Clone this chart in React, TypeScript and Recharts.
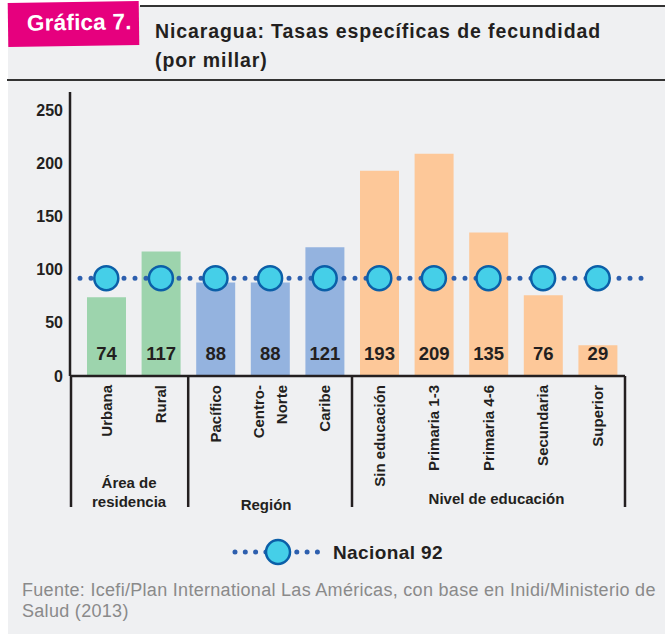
import React from 'react';
import { BarChart, Bar, Line, XAxis, YAxis, Cell, LabelList, ReferenceLine } from 'recharts';

const categorias = ['Urbana', 'Rural', 'Pacífico', 'Centro-\nNorte', 'Caribe', 'Sin educación', 'Primaria 1-3', 'Primaria 4-6', 'Secundaria', 'Superior'];
const tasas = [74, 117, 88, 88, 121, 193, 209, 135, 76, 29];
const grupoDe = [0, 0, 1, 1, 1, 2, 2, 2, 2, 2];
const grupos = [
  { nombre: ['Área de', 'residencia'], desde: 0, hasta: 1, color: '#9dd4ad' },
  { nombre: ['Región'], desde: 2, hasta: 4, color: '#94b3df' },
  { nombre: ['Nivel de educación'], desde: 5, hasta: 9, color: '#fdc899' },
];
const nacional = 92;
const yTicks = [0, 50, 100, 150, 200, 250];

const data = categorias.map((name, i) => ({ name, tasa: tasas[i], nacional, grupo: grupoDe[i] }));

const INK = '#231f20';
const FONT = '"Liberation Sans", Arial, sans-serif';
const PAD_LEFT = 9;

const CategoryTick = (props: any) => {
  const { x, y, payload, index } = props;
  const half = payload.offset || 27.3;
  const lines = String(payload.value).split('\n');
  const g = grupos.find((gr) => gr.hasta === index);
  let groupNode = null;
  if (g) {
    const right = x + half;
    let left = x - (g.hasta - g.desde) * 2 * half - half;
    if (g.desde === 0) left -= PAD_LEFT;
    // small nudges so the group titles sit where the original has them
    const nudge = g.desde === 2 ? -4 : g.desde === 5 ? 8 : 0;
    const cx = (left + right) / 2 + nudge;
    const baseY = g.nombre.length > 1 ? y + 112 : g.desde === 2 ? y + 134 : y + 128;
    groupNode = (
      <g>
        <line x1={right} x2={right} y1={y} y2={y + 131} stroke={INK} strokeWidth={2.5} />
        {g.desde === 0 && (
          <line x1={left + 1} x2={left + 1} y1={y} y2={y + 131} stroke={INK} strokeWidth={2.5} />
        )}
        <text x={cx} y={baseY} textAnchor="middle" fontSize={15} fontWeight="bold" fill={INK} fontFamily={FONT}>
          {g.nombre.map((l, i) => (
            <tspan key={i} x={cx} dy={i === 0 ? 0 : 19}>{l}</tspan>
          ))}
        </text>
      </g>
    );
  }
  return (
    <g>
      <text
        transform={`translate(${x},${y + 9}) rotate(-90)`}
        textAnchor="end"
        fontSize={15}
        fontWeight="bold"
        fill={INK}
        fontFamily={FONT}
      >
        {lines.map((l, i) => (
          <tspan key={i} x={0} y={(i - (lines.length - 1) / 2) * 23} dy="0.35em">{l}</tspan>
        ))}
      </text>
      {groupNode}
    </g>
  );
};

const ValueLabel = (props: any) => {
  const { x, y, width, height, value } = props;
  return (
    <text x={x + width / 2} y={y + height - 16} textAnchor="middle" fontSize={18.5} fontWeight="bold" fill={INK} fontFamily={FONT}>
      {value}
    </text>
  );
};

const DottedLine = (props: any) => {
  const { x1, x2, y1, y2 } = props;
  return (
    <line
      x1={x1 + 10}
      x2={x2 + 20}
      y1={y1}
      y2={y2}
      stroke="#2d5fae"
      strokeWidth={5}
      strokeDasharray="0 11"
      strokeLinecap="round"
    />
  );
};

export default function App() {
  return (
    <div style={{ position: 'absolute', left: 0, top: 0, width: 665, height: 634, background: '#fff', fontFamily: FONT, overflow: 'hidden' }}>
      <div style={{ position: 'absolute', left: 8, top: 6, right: 0, bottom: 0, background: '#eff0f2' }} />
      <div style={{ position: 'absolute', left: 140, top: 5, right: 0, height: 2, background: '#333' }} />
      <div style={{ position: 'absolute', left: 7, top: 79, right: 0, height: 2, background: '#333' }} />
      <div
        style={{
          position: 'absolute', left: 8, top: 2, width: 131, height: 44, background: '#e6007e',
          transform: 'rotate(-0.8deg)', color: '#fff', fontWeight: 'bold', fontSize: 22.5,
          lineHeight: '41px', paddingLeft: 19, boxSizing: 'border-box', letterSpacing: 0.2,
        }}
      >
        Gráfica 7.
      </div>
      <div style={{ position: 'absolute', left: 155, top: 17, fontWeight: 'bold', fontSize: 19.5, lineHeight: '29px', color: INK, letterSpacing: 0.9 }}>
        Nicaragua: Tasas específicas de fecundidad<br />(por millar)
      </div>

      <div style={{ position: 'absolute', left: 0, top: 0 }}>
        <BarChart width={665} height={634} data={data} margin={{ top: 92, right: 40, bottom: 127, left: 0 }}>
          <XAxis
            dataKey="name"
            interval={0}
            height={131}
            padding={{ left: PAD_LEFT, right: 0 }}
            axisLine={{ stroke: INK, strokeWidth: 2.5 }}
            tickLine={false}
            tickSize={0}
            tickMargin={0}
            tick={<CategoryTick />}
          />
          <YAxis
            width={70}
            domain={[0, 267]}
            ticks={yTicks}
            axisLine={{ stroke: INK, strokeWidth: 2.5 }}
            tickLine={false}
            tickSize={0}
            tickMargin={7}
            tick={{ fill: INK, fontSize: 16, fontWeight: 'bold', fontFamily: FONT }}
          />
          <Bar dataKey="tasa" barSize={39} isAnimationActive={false}>
            {data.map((d, i) => (
              <Cell key={i} fill={grupos[d.grupo].color} />
            ))}
            <LabelList dataKey="tasa" content={<ValueLabel />} />
          </Bar>
          <ReferenceLine y={nacional} ifOverflow="visible" shape={<DottedLine />} />
          <Line
            dataKey="nacional"
            stroke="none"
            isAnimationActive={false}
            activeDot={false}
            dot={{ r: 12, fill: '#45cfe8', stroke: '#0b5fa8', strokeWidth: 2.5 }}
          />
        </BarChart>
      </div>

      <svg style={{ position: 'absolute', left: 0, top: 530 }} width={665} height={45}>
        <line x1={235} x2={327} y1={22} y2={22} stroke="#2d5fae" strokeWidth={5} strokeDasharray="0 10.3" strokeLinecap="round" />
        <circle cx={278} cy={22} r={12} fill="#45cfe8" stroke="#0b5fa8" strokeWidth={2.5} />
        <text x={333} y={29} fontSize={19} fontWeight="bold" fill={INK} fontFamily={FONT} letterSpacing={0.4}>Nacional 92</text>
      </svg>

      <div style={{ position: 'absolute', left: 22, top: 580, fontSize: 18, lineHeight: '21px', color: '#8a8a8a', letterSpacing: 0.3, whiteSpace: 'nowrap' }}>
        Fuente: Icefi/Plan International Las Américas, con base en Inidi/Ministerio de<br />Salud (2013)
      </div>
    </div>
  );
}
